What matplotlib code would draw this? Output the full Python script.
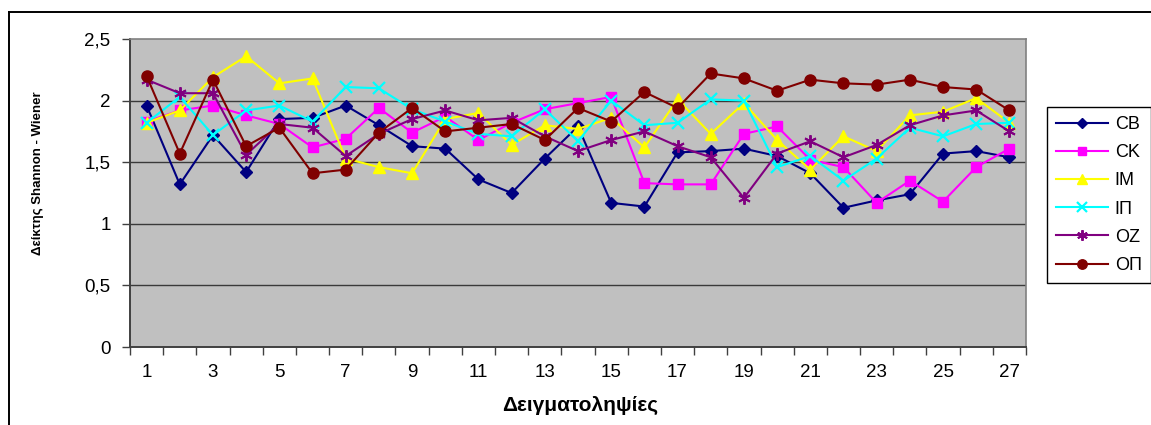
import matplotlib
matplotlib.use("Agg")
import matplotlib.pyplot as plt
from matplotlib.lines import Line2D
import numpy as np

plt.rcParams['font.family'] = ['Liberation Sans', 'DejaVu Sans']

# Sampling campaigns 1..27
samples = list(range(1, 28))

cb = [1.96, 1.32, 1.72, 1.42, 1.85, 1.86, 1.96, 1.80, 1.63, 1.61, 1.36, 1.25, 1.53, 1.79,
      1.17, 1.14, 1.58, 1.59, 1.61, 1.55, 1.41, 1.13, 1.19, 1.24, 1.57, 1.59, 1.54]
ck = [1.83, 1.92, 1.96, 1.88, 1.81, 1.62, 1.69, 1.94, 1.74, 1.87, 1.68, 1.82, 1.93, 1.98,
      2.03, 1.33, 1.32, 1.32, 1.73, 1.79, 1.52, 1.46, 1.17, 1.35, 1.18, 1.46, 1.61]
im = [1.82, 1.92, 2.19, 2.36, 2.14, 2.18, 1.53, 1.46, 1.41, 1.85, 1.90, 1.64, 1.80, 1.77,
      1.86, 1.62, 2.01, 1.73, 1.98, 1.68, 1.44, 1.71, 1.59, 1.88, 1.91, 2.02, 1.82]
ip = [1.82, 2.03, 1.72, 1.92, 1.96, 1.83, 2.11, 2.10, 1.93, 1.83, 1.73, 1.71, 1.93, 1.67,
      2.00, 1.80, 1.82, 2.01, 2.00, 1.46, 1.55, 1.35, 1.53, 1.78, 1.71, 1.81, 1.82]
oz = [2.17, 2.06, 2.06, 1.56, 1.81, 1.78, 1.55, 1.73, 1.85, 1.92, 1.84, 1.86, 1.71, 1.59,
      1.68, 1.75, 1.63, 1.54, 1.21, 1.57, 1.67, 1.54, 1.64, 1.80, 1.88, 1.92, 1.75]
op = [2.20, 1.57, 2.17, 1.63, 1.78, 1.41, 1.44, 1.74, 1.94, 1.75, 1.78, 1.81, 1.68, 1.94,
      1.83, 2.07, 1.94, 2.22, 2.18, 2.08, 2.17, 2.14, 2.13, 2.17, 2.11, 2.09, 1.92]

series_names = ['CB', 'CK', 'IM', 'IΠ', 'OZ', 'ΟΠ']
series_values = [cb, ck, im, ip, oz, op]
y_ticks = [0, 0.5, 1, 1.5, 2, 2.5]
y_tick_labels = ['0', '0,5', '1', '1,5', '2', '2,5']
x_label = 'Δειγματοληψίες'
y_label = 'Δείκτης Shannon - Wiener'

styles = [
    dict(color='#000080', marker='D', ms=6.5),
    dict(color='#FF00FF', marker='s', ms=7),
    dict(color='#FFFF00', marker='^', ms=9),
    dict(color='#00FFFF', marker='x', ms=8, mew=1.6),
    dict(color='#800080', marker=(6, 2, 0), ms=9, mew=1.4),
    dict(color='#800000', marker='o', ms=8),
]

W, H = 1151, 425
fig = plt.figure(figsize=(W / 100, H / 100), dpi=100)
fig.patch.set_facecolor('white')

# outer chart frame (runs off the right and bottom edges)
fig.add_artist(Line2D([9 / W, 1.0], [1 - 11.5 / H] * 2, color='black', lw=1.4,
                      transform=fig.transFigure))
fig.add_artist(Line2D([9 / W] * 2, [0.0, 1 - 11.5 / H], color='black', lw=1.4,
                      transform=fig.transFigure))

ax = fig.add_axes([130 / W, 1 - 347 / H, (1026 - 130) / W, (347 - 39) / H])
ax.set_facecolor('#C0C0C0')

x = np.array(samples)
handles = []
for name, vals, st in zip(series_names, series_values, styles):
    mew = st.get('mew', 1.0)
    h, = ax.plot(x, vals, color=st['color'], lw=1.5, marker=st['marker'],
                 ms=st['ms'], mfc=st['color'], mec=st['color'], mew=mew,
                 label=name, zorder=3)
    handles.append(h)

ax.set_xlim(0.5, 27.5)
ax.set_ylim(0, 2.5)

for yv in y_ticks[1:-1]:
    ax.axhline(yv, color='#3a3a3a', lw=1.0, zorder=1)

ax.set_yticks(y_ticks)
ax.set_yticklabels(y_tick_labels, fontsize=13.5)
ax.tick_params(axis='y', direction='out', length=6, width=1, color='#404040', pad=8)

# tick marks at category boundaries, labels on every other category
ax.set_xticks(np.arange(0.5, 28.0, 1.0))
ax.set_xticklabels([])
ax.tick_params(axis='x', which='major', direction='out', length=6, width=1, color='#404040')
ax.set_xticks(x[::2], minor=True)
ax.set_xticklabels([str(v) for v in x[::2]], minor=True, fontsize=13.5)
ax.tick_params(axis='x', which='minor', length=0, pad=12)

for side in ('top', 'right'):
    ax.spines[side].set_color('#808080')
    ax.spines[side].set_linewidth(1.2)
for side in ('left', 'bottom'):
    ax.spines[side].set_color('#404040')
    ax.spines[side].set_linewidth(1.4)

fig.text(580 / W, 1 - 405 / H, x_label, fontsize=15, fontweight='bold',
         ha='center', va='center')
fig.text(38 / W, 1 - 173 / H, y_label, fontsize=9.5, fontweight='bold',
         rotation=90, ha='center', va='center')

leg = fig.legend(handles=handles, loc='upper left',
                 bbox_to_anchor=(1047 / W, 1 - 107 / H), bbox_transform=fig.transFigure,
                 fontsize=13, frameon=True, fancybox=False, framealpha=1,
                 edgecolor='black', handlelength=2.9, handletextpad=0.35,
                 labelspacing=0.62, borderpad=0.5, borderaxespad=0)
leg.get_frame().set_linewidth(1.0)
for lh in leg.legend_handles:
    lh.set_markersize(lh.get_markersize() * 0.85)

fig.savefig('out.png', dpi=100, facecolor='white')
